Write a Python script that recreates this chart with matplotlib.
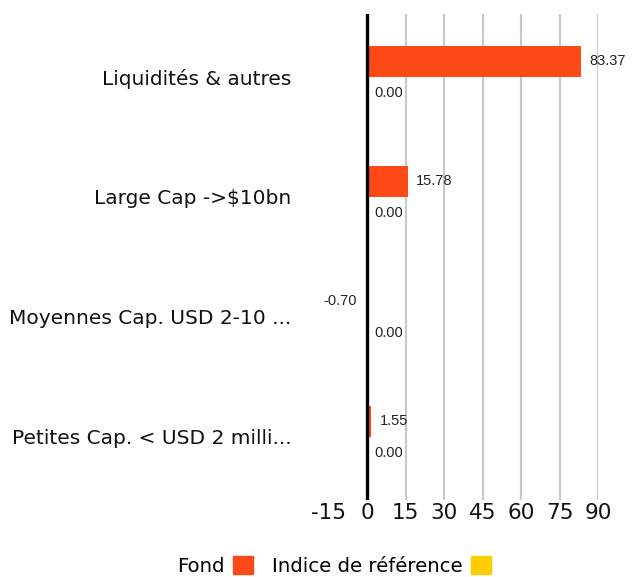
import matplotlib.pyplot as plt
from matplotlib.patches import Patch
import numpy as np

categories = ["Liquidités & autres", "Large Cap ->$10bn", "Moyennes Cap. USD 2-10 ...",
              "Petites Cap. < USD 2 milli..."]
fond = [83.37, 15.78, -0.70, 1.55]
indice = [0.00, 0.00, 0.00, 0.00]
series_names = ["Fond", "Indice de référence"]
xticks = [-15, 0, 15, 30, 45, 60, 75, 90]

colors = ["#FF4A17", "#FFCC00"]
font = "DejaVu Sans"

fig = plt.figure(figsize=(6.38, 5.77), dpi=100)
ax = fig.add_axes([329 / 638, 77 / 577, 269 / 638, 486 / 577])

y = np.arange(len(categories))
h = 0.26
off = 0.13
ax.barh(y - off, fond, height=h, color=colors[0], zorder=3)
ax.barh(y + off, indice, height=h, color=colors[1], zorder=3)

for yi, v in zip(y - off, fond):
    ax.annotate(f"{v:.2f}", (v, yi), xytext=(6 if v >= 0 else -6, 0),
                textcoords="offset points", va="center",
                ha="left" if v >= 0 else "right", fontsize=10.5,
                family="Liberation Sans", color="#222222", zorder=4)
for yi, v in zip(y + off, indice):
    ax.annotate(f"{v:.2f}", (v, yi), xytext=(5, 0),
                textcoords="offset points", va="center", ha="left",
                fontsize=10.5, family="Liberation Sans", color="#222222", zorder=4)

# grid lines and zero line
for t in xticks:
    if t > 0:
        ax.axvline(t, color="#c8c8c8", lw=1.5, zorder=1)
ax.axvline(0, color="black", lw=2.4, zorder=5)

ax.set_xlim(-15, 90)
ax.set_ylim(3.525, -0.525)
ax.set_xticks(xticks)
ax.set_xticklabels([str(t) for t in xticks], fontsize=15.5, family=font, color="#111111")
ax.set_yticks(y)
ax.set_yticklabels(categories, fontsize=14.5, family=font, color="#111111")
ax.tick_params(axis="both", length=0)
ax.tick_params(axis="y", pad=27)
ax.tick_params(axis="x", pad=2)
for s in ax.spines.values():
    s.set_visible(False)

handles = [Patch(color=c, label=n) for c, n in zip(colors, series_names)]
fig.legend(handles=handles, loc="center", bbox_to_anchor=(334 / 638, 11 / 577),
           ncol=2, frameon=False, markerfirst=False, handlelength=1.0,
           handleheight=1.0, handletextpad=0.4, columnspacing=1.0,
           prop={"family": font, "size": 14.2})

fig.savefig("out.png", dpi=100)
